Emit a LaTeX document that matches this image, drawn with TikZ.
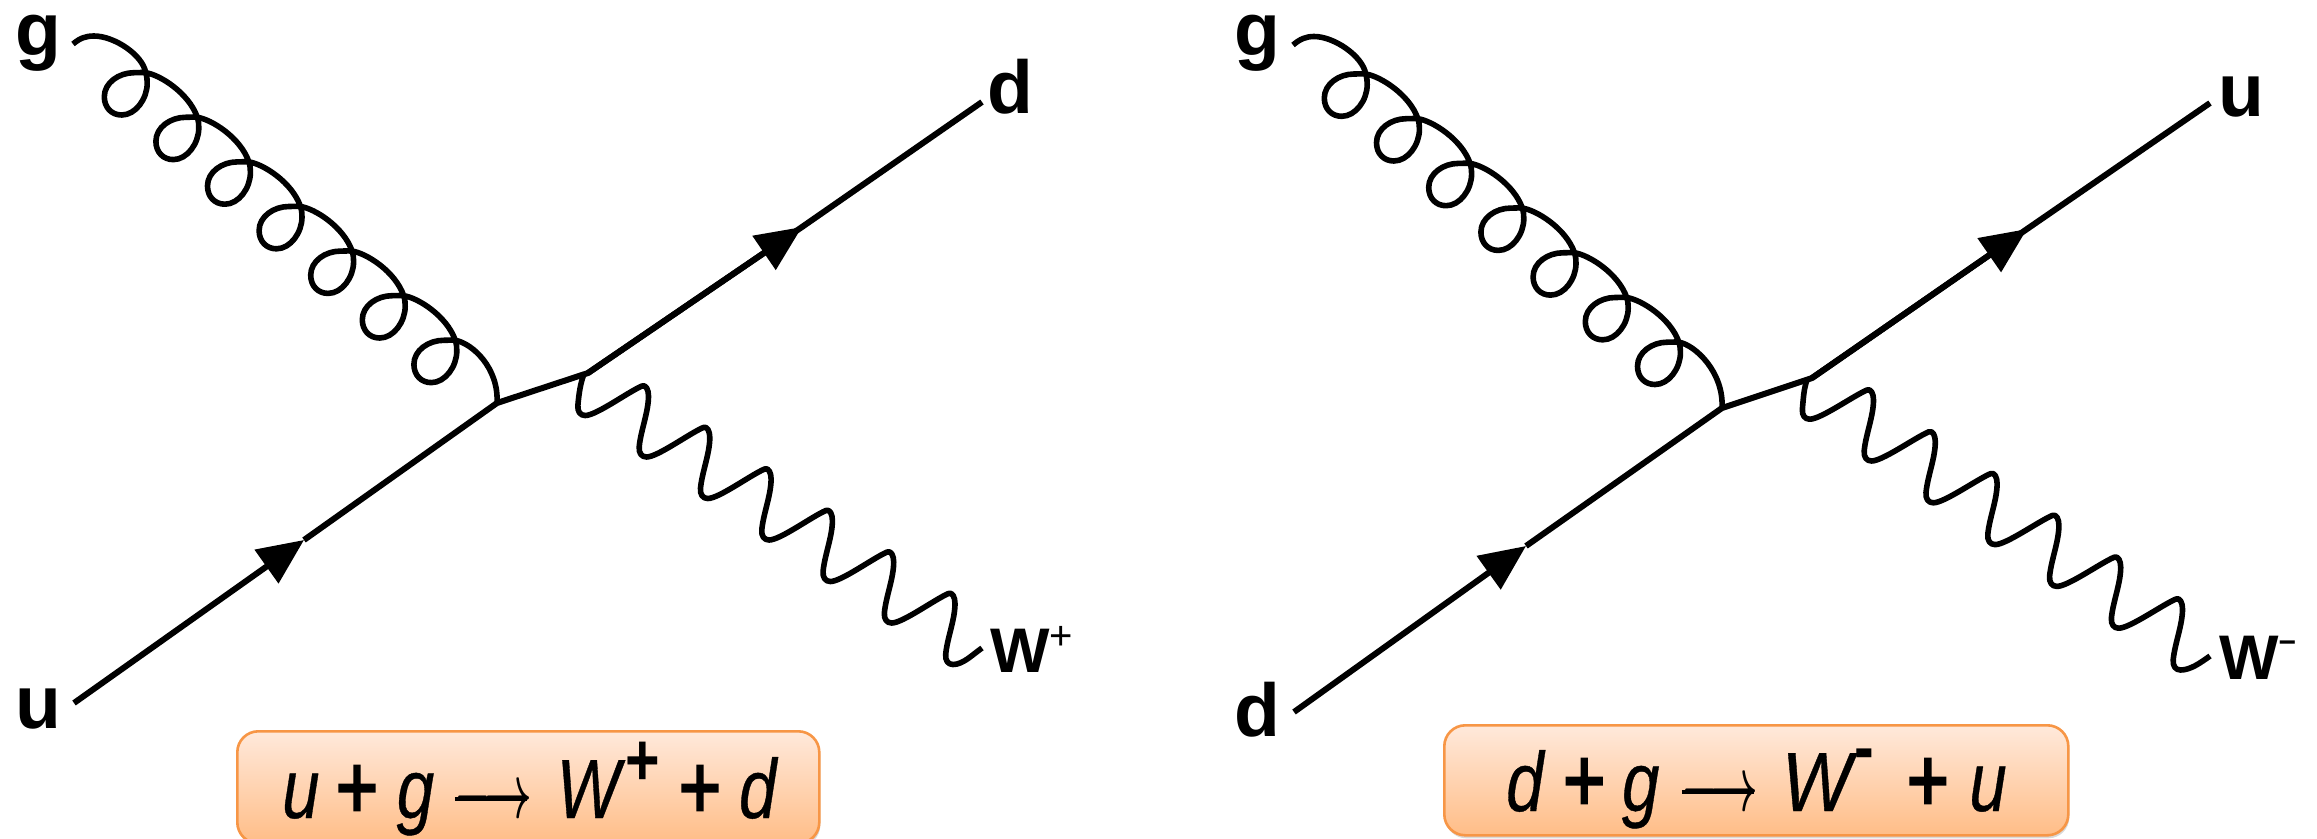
\documentclass[tikz,border=0pt]{standalone}
\usepackage{fontspec}
\usepackage{graphicx}
\setmainfont{Liberation Sans}
\newfontfamily\fmlfont[FakeBold=0.5]{Liberation Sans}
\newfontfamily\plusfont[FakeBold=3]{Liberation Sans}
\usetikzlibrary{arrows.meta,shadows}
\definecolor{boxtop}{HTML}{FFE9DB}
\definecolor{boxbot}{HTML}{FFBD87}
\definecolor{boxedge}{HTML}{F79646}
\tikzset{
  fermionline/.style={line width=6pt,black},
  fermiontip/.style={fermionline,-{Triangle[length=46pt,width=40pt]}},
  particlecurve/.style={line width=5.6pt,black,line join=round},
  plabel/.style={inner sep=0pt,anchor=base west,font=\fontsize{75}{80}\selectfont\bfseries},
  wlabel/.style={inner sep=0pt,anchor=base west,font=\fontsize{63}{70}\selectfont\bfseries},
  formula/.style={inner sep=0pt,anchor=base west},
  reactionbox/.style={draw=boxedge,line width=2.6pt,rounded corners=21pt,top color=boxtop,bottom color=boxbot,
    minimum width=#1,inner sep=0pt,anchor=north west,
    drop shadow={shadow xshift=1pt,shadow yshift=-3pt,opacity=.3,fill=gray}},
}
% gluon: start name, vertex name, first crossing x,y, period x,y, peak x,y
\newcommand{\gluonline}[8]{%
  \draw[particlecurve] (#1)
    .. controls +(7,-6) and +(-8,0) .. (#7,#8)
    .. controls +(20,0) and +(-3,-18) .. (#3,#4)
    \foreach \i [evaluate=\i as \cx using #3+\i*#5, evaluate=\i as \cy using #4+\i*#6] in {0,...,5}{
      .. controls +(1.3,4) and +(0,-3.5) .. (\cx+1.5,\cy+10.6)
      .. controls +(0,15.4) and +(14,0) .. (\cx-24,\cy+42.3)
      .. controls +(-10,0) and +(0,11) .. (\cx-41.4,\cy+24)
      .. controls +(0,-14) and +(-15,0) .. (\cx-11.7,\cy)
      .. controls +(4,0) and +(-4,-.4) .. (\cx,\cy)
      .. controls +(14,2) and +(-8.6,-24.6) .. (\cx+#5,\cy+#6)
    }
    .. controls +(1.3,4) and +(0,-3.5) .. (#3+6*#5+1.5,#4+6*#6+10.6)
    .. controls +(0,15.4) and +(14,0) .. (#3+6*#5-24,#4+6*#6+42.3)
    .. controls +(-10,0) and +(0,11) .. (#3+6*#5-41.4,#4+6*#6+24)
    .. controls +(0,-14) and +(-15,0) .. (#3+6*#5-11.7,#4+6*#6)
    .. controls +(4,0) and +(-4,-.4) .. (#3+6*#5,#4+6*#6)
    .. controls +(17,3) and +(2,-35) .. (#2);
}
% W wave: start name, end name, T0 x,y, period x,y
\newcommand{\waveline}[6]{%
  \draw[particlecurve] (#1)
    .. controls +(-3,8) and +(1,-12) .. (#3-2.8,#4+60.7)
    \foreach \i [evaluate=\i as \tx using #3+\i*#5, evaluate=\i as \ty using #4+\i*#6] in {0,...,5}{
      .. controls +(-.6,6.3) and +(-5,0) .. (\tx+4.5,\ty+71)
      .. controls +(11,0) and +(-14,6) .. (\tx+#5,\ty+#6)
      .. controls +(4,-1.7) and +(0,-6) .. (\tx+#5+6.5,\ty+#6+10)
      .. controls +(0,16) and +(1.5,-16) .. (\tx+#5-2.8,\ty+#6+60.7)
    }
    .. controls +(-.6,6.3) and +(-5,0) .. (#3+6*#5+4.5,#4+6*#6+71)
    .. controls +(10,0) and +(-10,7) .. (#2);
}
\newcommand{\bplus}{{\fontsize{90}{96}\selectfont\plusfont\upshape +}}
\newcommand{\farrow}{\raisebox{1pt}{\rlap{\rule[16pt]{90pt}{4pt}}\resizebox{96pt}{30pt}{\mbox{\boldmath$\longrightarrow$}}}}
\newcommand{\supplus}{\raisebox{33pt}{\fontsize{74}{80}\selectfont\normalfont\bfseries +}}
\newcommand{\supminus}{\raisebox{39pt}{\fontsize{74}{80}\selectfont\normalfont\bfseries -}}
\begin{document}
\begin{tikzpicture}[x=1pt,y=-1pt]
\useasboundingbox (0,0) rectangle (2317,838);
% ---------- left diagram ----------
\coordinate (lu) at (74,703);
\coordinate (ltip) at (304,540);
\coordinate (lA) at (497,403);
\coordinate (lB) at (588,373);
\coordinate (ltipb) at (802,227);
\coordinate (ld) at (982,102);
\coordinate (lgs) at (73,44);
\coordinate (lws) at (583.6,375);
\coordinate (lwe) at (982,648);
\gluonline{lgs}{lA}{145.7}{72.7}{51.6}{44.6}{94}{36}
\waveline{lws}{lwe}{580.7}{344.5}{61.3}{41.5}
\draw[fermiontip] (lu) -- (ltip);
\draw[fermionline] (ltip) -- (lA) -- (lB) -- (ltipb) -- (ld);
\draw[fermiontip] (lB) -- (ltipb);
\node[plabel] (lgl) at (15,55) {g};
\node[plabel] (lul) at (15,728) {u};
\node[plabel] (ldl) at (987,113) {d};
\node[wlabel] (lwl) at (990,672) {W\raisebox{23pt}{\fontsize{40}{44}\selectfont\mdseries +}};
\node[reactionbox=582pt,minimum height=112pt] (lbox) at (236,730) {};
\node[formula] (lf) at (282,818) {\scalebox{.8}[1]{\fontsize{84}{90}\selectfont\fmlfont\itshape u\hspace{20.5pt}\bplus\hspace{23.5pt}g\hspace{26pt}\farrow\hspace{31pt}W\hspace{7pt}\supplus\hspace{23.5pt}\bplus\hspace{22.5pt}d}};
% ---------- right diagram ----------
\coordinate (ru) at (1294,712);
\coordinate (rtip) at (1526,546);
\coordinate (rA) at (1722,408);
\coordinate (rB) at (1812,378);
\coordinate (rtipb) at (2027,229);
\coordinate (ru2) at (2210,103);
\coordinate (rgs) at (1293,45);
\coordinate (rws) at (1807,380);
\coordinate (rwe) at (2210,656);
\gluonline{rgs}{rA}{1365.7}{74}{52.2}{44.7}{1314}{36.5}
\waveline{rws}{rwe}{1805.2}{348.2}{61.8}{41.8}
\draw[fermiontip] (ru) -- (rtip);
\draw[fermionline] (rtip) -- (rA) -- (rB) -- (rtipb) -- (ru2);
\draw[fermiontip] (rB) -- (rtipb);
\node[plabel] (rgl) at (1234,55) {g};
\node[plabel] (rdl) at (1234,736) {d};
\node[plabel] (rul) at (2218,116) {u};
\node[wlabel] (rwl) at (2219,679) {W\raisebox{27pt}{\fontsize{30}{34}\selectfont −}};
\node[reactionbox=624pt,minimum height=110pt] (rbox) at (1443,724) {};
\node[formula] (rf) at (1506,811) {\scalebox{.8}[1]{\fontsize{84}{90}\selectfont\fmlfont\itshape d\hspace{24.5pt}\bplus\hspace{21pt}g\hspace{28pt}\farrow\hspace{29pt}\scalebox{1.1}[1]{W}\hspace{4pt}\supminus\hspace{40.5pt}\bplus\hspace{25.5pt}u}};
\end{tikzpicture}
\end{document}
